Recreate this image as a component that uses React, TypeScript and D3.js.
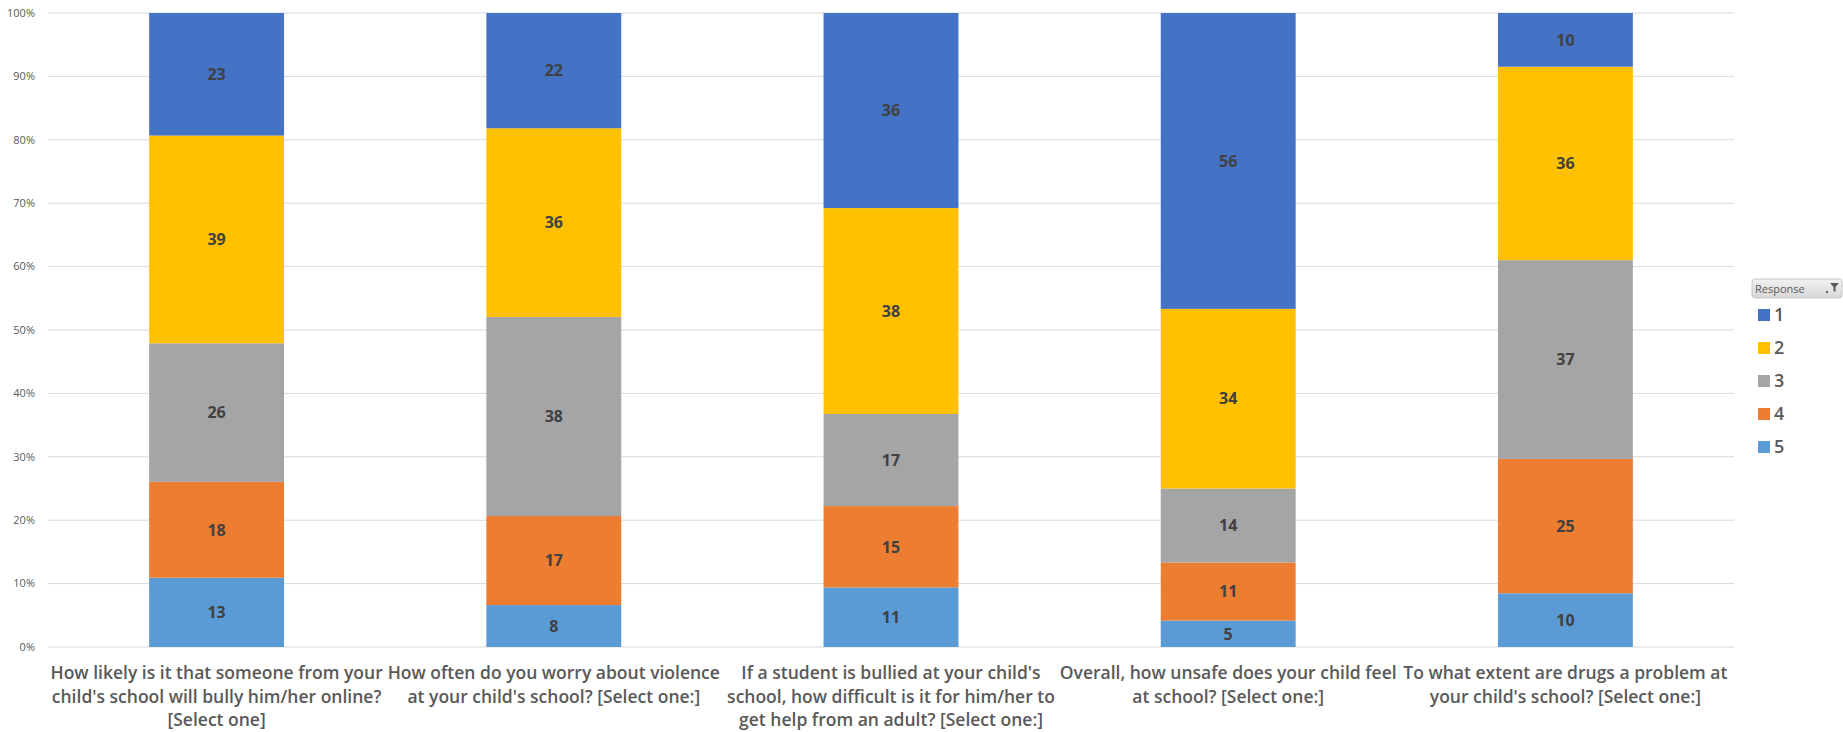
import React from "react";
import * as d3 from "d3";

const categories: string[][] = [
  ["How likely is it that someone from your", "child's school will bully him/her online?", "[Select one]"],
  ["How often do you worry about violence", "at your child's school? [Select one:]"],
  ["If a student is bullied at your child's", "school, how difficult is it for him/her to", "get help from an adult? [Select one:]"],
  ["Overall, how unsafe does your child feel", "at school? [Select one:]"],
  ["To what extent are drugs a problem at", "your child's school? [Select one:]"],
];

const responses = ["5", "4", "3", "2", "1"]; // stacking order bottom -> top
const legendOrder = ["1", "2", "3", "4", "5"];

const resp5 = [13, 8, 11, 5, 10];
const resp4 = [18, 17, 15, 11, 25];
const resp3 = [26, 38, 17, 14, 37];
const resp2 = [39, 36, 38, 34, 36];
const resp1 = [23, 22, 36, 56, 10];

const yTicks = [0, 0.1, 0.2, 0.3, 0.4, 0.5, 0.6, 0.7, 0.8, 0.9, 1];

const colors: Record<string, string> = {
  "1": "#4472C4",
  "2": "#FFC000",
  "3": "#A5A5A5",
  "4": "#ED7D31",
  "5": "#5B9BD5",
};

const seriesValues: Record<string, number[]> = {
  "1": resp1,
  "2": resp2,
  "3": resp3,
  "4": resp4,
  "5": resp5,
};

export default function App() {
  const W = 1843;
  const H = 732;
  const left = 48;
  const right = 1734;
  const top = 13;
  const bottom = 647;

  const idx = categories.map((_, i) => i);
  const x = d3.scaleBand<number>().domain(idx).range([left, right]).paddingInner(0.6).paddingOuter(0.3);
  const y = d3.scaleLinear().domain([0, 1]).range([bottom, top]);

  const rows = idx.map((i) => {
    const r: any = { i };
    let tot = 0;
    responses.forEach((k) => (tot += seriesValues[k][i]));
    responses.forEach((k) => (r[k] = seriesValues[k][i] / tot));
    r.raw = Object.fromEntries(responses.map((k) => [k, seriesValues[k][i]]));
    return r;
  });
  const stack = d3.stack<any>().keys(responses);
  const layers = stack(rows);

  const font = "'Open Sans', 'Liberation Sans', Arial, sans-serif";

  return (
    <svg width={W} height={H} style={{ position: "absolute", left: 0, top: 0, background: "#fff" }} fontFamily={font}>
      <defs>
        <linearGradient id="hdr" x1="0" y1="0" x2="0" y2="1">
          <stop offset="0" stopColor="#F2F2F2" />
          <stop offset="1" stopColor="#D6D6D6" />
        </linearGradient>
      </defs>
      {yTicks.map((t) => (
        <g key={t}>
          <line x1={left} x2={right} y1={y(t)} y2={y(t)} stroke="#D9D9D9" strokeWidth={1} />
          <text x={35} y={y(t)} dy="0.35em" textAnchor="end" fontSize={11} fill="#595959">
            {d3.format(".0%")(t)}
          </text>
        </g>
      ))}
      {layers.map((layer) => (
        <g key={layer.key}>
          {layer.map((d, j) => (
            <g key={j}>
              <rect
                x={x(j)}
                width={x.bandwidth()}
                y={y(d[1])}
                height={y(d[0]) - y(d[1])}
                fill={colors[layer.key]}
              />
              <text
                x={(x(j) as number) + x.bandwidth() / 2}
                y={(y(d[0]) + y(d[1])) / 2}
                dy="0.36em"
                textAnchor="middle"
                fontSize={16}
                fontWeight={700}
                fill="#404040"
              >
                {rows[j].raw[layer.key]}
              </text>
            </g>
          ))}
        </g>
      ))}
      {categories.map((lines, i) => (
        <text
          key={i}
          x={(x(i) as number) + x.bandwidth() / 2}
          y={679}
          textAnchor="middle"
          fontSize={17.5}
          fontWeight={600}
          fill="#595959"
        >
          {lines.map((l, k) => (
            <tspan key={k} x={(x(i) as number) + x.bandwidth() / 2} y={679 + k * 23.5}>
              {l}
            </tspan>
          ))}
        </text>
      ))}
      <g>
        <rect x={1752} y={279} width={90} height={19} rx={3} fill="url(#hdr)" stroke="#C8C8C8" />
        <text x={1755} y={292.5} fontSize={11} fill="#595959">Response</text>
        <path d="M1830,283 L1839,283 L1835.5,287 L1835.5,292 L1833.5,291 L1833.5,287 Z" fill="#595959" />
        <rect x={1826} y={291} width={2} height={2} fill="#595959" />
        {legendOrder.map((k, n) => (
          <g key={k}>
            <rect x={1758} y={309 + n * 33} width={12} height={12} fill={colors[k]} />
            <text x={1774} y={315 + n * 33} dy="0.36em" fontSize={18} fontWeight={600} fill="#595959">
              {k}
            </text>
          </g>
        ))}
      </g>
    </svg>
  );
}
